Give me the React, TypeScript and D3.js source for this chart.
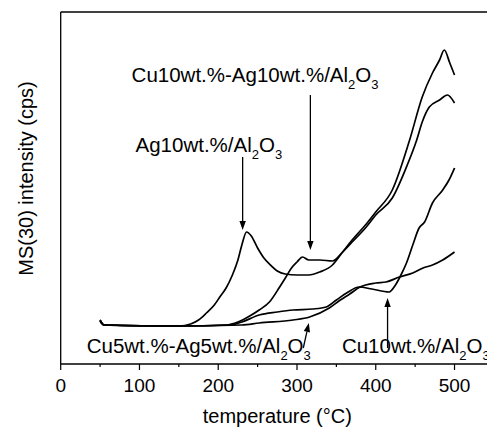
import React from "react";
import * as d3 from "d3";

// ---------- data (temperature °C, MS(30) intensity in arbitrary units) ----------
const ag10T = [50, 55, 100, 150, 165, 175, 185, 195, 202, 210, 218, 225, 230, 236, 242, 250, 258, 265, 275, 285, 300, 315, 329, 345, 358, 370, 388, 400, 421, 443, 459, 472, 481, 487, 494, 500];
const ag10V = [44, 39, 38, 38, 40, 44, 51, 59, 67, 76, 89, 104, 119, 132, 128, 116, 106, 100, 93, 90, 89, 89, 92, 99, 112, 124, 140, 152, 174, 224, 267, 291, 304, 314, 301, 289];

const cu10ag10T = [50, 55, 150, 210, 225, 240, 252, 265, 278, 286, 293, 300, 307, 315, 329, 345, 358, 370, 388, 400, 421, 440, 452, 459, 468, 481, 491, 500];
const cu10ag10V = [44, 39, 38, 39, 42, 48, 54, 62, 77, 87, 96, 102, 107, 104, 104, 103, 112, 122, 137, 149, 166, 199, 224, 242, 257, 264, 269, 261];

const cu5ag5T = [50, 55, 150, 230, 252, 295, 316, 341, 355, 367, 380, 400, 413, 430, 447, 460, 472, 485, 500];
const cu5ag5V = [43, 39, 38, 39, 41, 44, 47, 56, 64, 70, 77, 81, 82, 87, 91, 96, 99, 104, 112];

const cu10T = [50, 55, 150, 215, 230, 252, 275, 295, 320, 337, 350, 363, 379, 395, 417, 425, 432, 439, 447, 455, 462, 472, 485, 493, 500];
const cu10V = [43, 39, 38, 39, 42, 49, 52, 54, 55, 57, 64, 71, 77, 75, 72, 79, 89, 101, 119, 136, 142, 161, 174, 184, 196];

const majorTicks = [0, 100, 200, 300, 400, 500];
const minorTicks = [50, 150, 250, 350, 450, 550];

// annotation labels: segments [text, isSubscript]
const labelCuAg10: [string, boolean][] = [["Cu10wt.%-Ag10wt.%/Al", false], ["2", true], ["O", false], ["3", true]];
const labelAg10: [string, boolean][] = [["Ag10wt.%/Al", false], ["2", true], ["O", false], ["3", true]];
const labelCuAg5: [string, boolean][] = [["Cu5wt.%-Ag5wt.%/Al", false], ["2", true], ["O", false], ["3", true]];
const labelCu10: [string, boolean][] = [["Cu10wt.%/Al", false], ["2", true], ["O", false], ["3", true]];

// annotation anchors in data units: text (t, v), arrow from (t1,v1) to (t2,v2)
const annotations = [
  { label: labelCuAg10, t: 90, v: 282, t1: 317, v1: 269, t2: 317, v2: 114 },
  { label: labelAg10, t: 95, v: 212, t1: 231, v1: 207, t2: 231, v2: 134 },
  { label: labelCuAg5, t: 33, v: 11, t1: 308, v1: 16, t2: 315, v2: 41 },
  { label: labelCu10, t: 357, v: 11, t1: 415, v1: 16, t2: 415, v2: 66 },
];

const W = 487;
const H = 428;
const FONT = "'Liberation Sans', Arial, Helvetica, sans-serif";

export default function App() {
  const x = d3.scaleLinear().domain([0, 550]).range([60.7, 493.9]);
  const y = d3.scaleLinear().domain([0, 352]).range([364, 12]);

  const series = [
    [ag10T, ag10V],
    [cu10ag10T, cu10ag10V],
    [cu5ag5T, cu5ag5V],
    [cu10T, cu10V],
  ];
  const line = d3
    .line<[number, number]>()
    .x((d) => x(d[0]))
    .y((d) => y(d[1]))
    .curve(d3.curveMonotoneX);

  const x0 = x(0);
  const yb = y(0);
  const yt = y(352);

  return (
    <svg
      width={W}
      height={H}
      style={{ position: "absolute", left: 0, top: 0, background: "#fff" }}
      fontFamily={FONT}
    >
      <rect x={0} y={0} width={W} height={H} fill="#fff" />
      {/* frame */}
      <line x1={x0} x2={x(550)} y1={yt} y2={yt} stroke="#000" strokeWidth={1.3} />
      <line x1={x0} x2={x0} y1={yt} y2={yb} stroke="#000" strokeWidth={1.3} />
      <line x1={x0} x2={x(550)} y1={yb} y2={yb} stroke="#000" strokeWidth={1.3} />
      <line x1={x(550)} x2={x(550)} y1={yt} y2={yb} stroke="#000" strokeWidth={1.3} />

      {/* ticks */}
      {majorTicks.map((t) => (
        <g key={"M" + t}>
          <line x1={x(t)} x2={x(t)} y1={yb} y2={yb + 6} stroke="#000" strokeWidth={1.2} />
          <text x={x(t)} y={391.5} textAnchor="middle" fontSize={19} fill="#000">
            {t}
          </text>
        </g>
      ))}
      {minorTicks.map((t) => (
        <line key={"m" + t} x1={x(t)} x2={x(t)} y1={yb} y2={yb + 3} stroke="#000" strokeWidth={1.2} />
      ))}

      {/* axis titles */}
      <text x={(x(0) + x(550)) / 2} y={423} textAnchor="middle" fontSize={20} fill="#000">
        temperature (°C)
      </text>
      <text
        transform={`translate(32.5,178.5) rotate(-90)`}
        textAnchor="middle"
        fontSize={20}
        fill="#000"
      >
        MS(30) intensity (cps)
      </text>

      {/* curves */}
      {series.map(([ts, vs], i) => (
        <path
          key={i}
          d={line(ts.map((t, j) => [t, vs[j]] as [number, number])) || ""}
          fill="none"
          stroke="#000"
          strokeWidth={1.7}
          strokeLinejoin="round"
        />
      ))}

      {/* annotations */}
      {annotations.map((a, i) => {
        const ax1 = x(a.t1), ay1 = y(a.v1), ax2 = x(a.t2), ay2 = y(a.v2);
        const ang = Math.atan2(ay2 - ay1, ax2 - ax1);
        const L = 9, Wd = 3.2;
        const bx = ax2 - L * Math.cos(ang), by = ay2 - L * Math.sin(ang);
        const px = -Math.sin(ang) * Wd, py = Math.cos(ang) * Wd;
        return (
          <g key={"a" + i}>
            <text x={x(a.t)} y={y(a.v)} fontSize={20.5} fill="#000">
              {a.label.map(([s, sub], k) => {
                const prevSub = k > 0 && a.label[k - 1][1];
                const dy = sub ? 7 : prevSub ? -7 : 0;
                return (
                  <tspan key={k} dy={dy} fontSize={sub ? 13 : 20.5}>
                    {s}
                  </tspan>
                );
              })}
            </text>
            <line x1={ax1} y1={ay1} x2={bx} y2={by} stroke="#000" strokeWidth={1.3} />
            <path
              d={`M${ax2},${ay2} L${bx + px},${by + py} L${bx - px},${by - py} Z`}
              fill="#000"
            />
          </g>
        );
      })}
    </svg>
  );
}
